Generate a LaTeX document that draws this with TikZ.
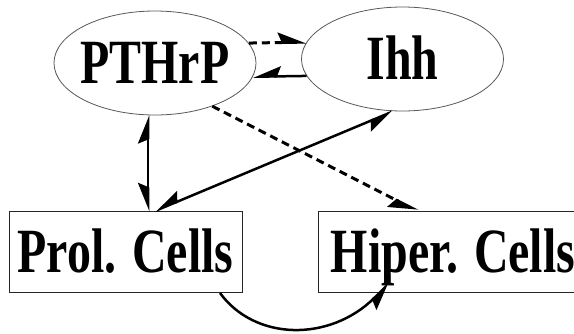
\documentclass[tikz,border=0pt]{standalone}
\usepackage{fontspec}
\setmainfont{Liberation Serif}[FakeStretch=0.76]
\usetikzlibrary{arrows.meta,shapes.geometric}
\tikzset{
  harpL/.tip={Stealth[harpoon,length=25pt,width=20pt,inset=4pt]},
  harpR/.tip={Stealth[harpoon,swap,length=25pt,width=20pt,inset=4pt]}
}
\begin{document}
\begin{tikzpicture}[x=1pt,y=-1pt,
  lbl/.style={font=\fontsize{63}{63}\selectfont\bfseries, text height=41pt, text depth=0pt, inner sep=0pt},
  oval/.style={ellipse, draw=black!65, line width=0.8pt, minimum width=202pt, minimum height=104pt, lbl},
  boxn/.style={rectangle, draw=black!85, line width=1pt, lbl, minimum height=81pt},
  conn/.style={line width=2.5pt},
  dconn/.style={line width=3pt, dash pattern=on 8pt off 5pt}]
\useasboundingbox (0,0) rectangle (574,333);
\fill[white] (0,0) rectangle (574,333);
\clip (0,0) rectangle (574,333);
\node[oval] (pthrp) at (155,63) {\makebox[0pt]{PTHrP}};
\node[oval] (ihh) at (402.5,59) {\makebox[0pt]{Ihh}};
\node[boxn, minimum width=233pt] (prol) at (125.5,252) {Prol. Cells};
\node[boxn, minimum width=270pt] (hiper) at (453,252) {Hiper. Cells};
\draw[conn, {harpL}-{harpR}] ([xshift=-7pt]pthrp.south) -- ([xshift=22.5pt]prol.north);
\draw[conn, {harpR}-{harpR}] ([xshift=-9.5pt]ihh.south) -- ([xshift=29.5pt]prol.north);
\draw[dconn, -{harpL}] (pthrp.12.1) -- (ihh.170.5);
\draw[conn, -{harpR}] (ihh.190.8) -- (pthrp.-8.2);
\draw[dconn, -{harpR}] (pthrp.-37) -- ([xshift=100pt]hiper.north west);
\draw[conn, -{harpR}] ([xshift=94.5pt]prol.south) .. controls +(35,48) and +(-60,59) .. ([xshift=72pt,yshift=10pt]hiper.south west);
\end{tikzpicture}
\end{document}
